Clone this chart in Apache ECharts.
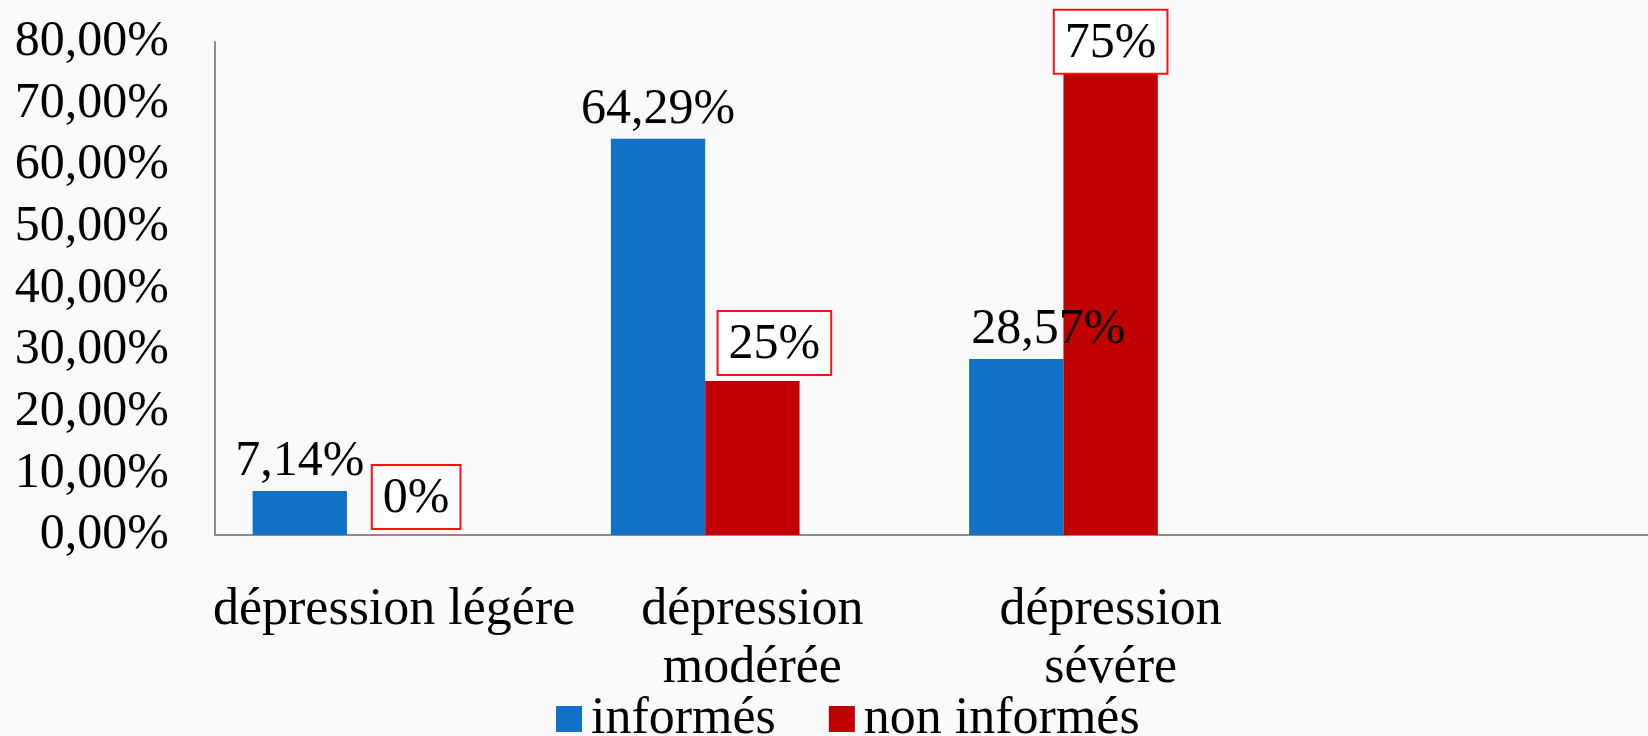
<!DOCTYPE html>
<html>
<head>
<meta charset="utf-8">
<script src="https://cdn.jsdelivr.net/npm/echarts@6/dist/echarts.min.js"></script>
<style>
html,body{margin:0;padding:0;background:#fafafa;}
#chart{width:1648px;height:736px;}
</style>
</head>
<body>
<div id="chart"></div>
<script>
const categories = ['dépression légére', 'dépression\nmodérée', 'dépression\nsévére', ''];
const informes = [7.14, 64.29, 28.57, null];
const nonInformes = [0, 25, 75, null];
const informesLabels = ['7,14%', '64,29%', '28,57%', ''];
const nonInformesLabels = ['0%', '25%', '75%', ''];
const yTicks = ['0,00%', '10,00%', '20,00%', '30,00%', '40,00%', '50,00%', '60,00%', '70,00%', '80,00%'];

const FONT = '"Liberation Serif", "DejaVu Serif", serif';
const chart = echarts.init(document.getElementById('chart'));
chart.setOption({
  backgroundColor: '#fafafa',
  animation: false,
  textStyle: { fontFamily: FONT, color: '#000' },
  grid: { left: 215, right: -11, top: 42, bottom: 201, containLabel: false },
  legend: {
    data: ['informés', 'non informés'],
    left: 551, top: 688,
    icon: 'rect', itemWidth: 26, itemHeight: 26, itemGap: 53,
    textStyle: { fontFamily: FONT, fontSize: 52, color: '#000', padding: [0, 0, 0, 4] }
  },
  xAxis: {
    type: 'category', data: categories,
    axisLine: { lineStyle: { color: '#8c8c8c', width: 2 } },
    axisTick: { show: false },
    axisLabel: { interval: 0, fontFamily: FONT, fontSize: 52, lineHeight: 58, color: '#000', margin: 46 }
  },
  yAxis: {
    type: 'value', min: 0, max: 80, interval: 10,
    splitLine: { show: false },
    axisLine: { show: true, lineStyle: { color: '#8c8c8c', width: 2 } },
    axisTick: { show: false },
    axisLabel: { fontFamily: FONT, fontSize: 50, color: '#000', margin: 46,
      formatter: (v) => yTicks[Math.round(v / 10)] }
  },
  series: [
    {
      name: 'informés', type: 'bar',
      data: informes.map((v, i) => i === 2 ? { value: v, label: { offset: [32, 0] } } : v),
      barCategoryGap: '21%', barGap: '0%',
      itemStyle: { color: '#1170c8' },
      label: { show: true, position: 'top', distance: 4, fontFamily: FONT, fontSize: 50, color: '#000',
        formatter: (p) => informesLabels[p.dataIndex] }
    },
    {
      name: 'non informés', type: 'bar',
      data: nonInformes.map((v, i) => i === 2 ? { value: v, label: { distance: 0 } } : { value: v, label: { offset: [22, 0] } }),
      itemStyle: { color: '#c00000' },
      label: { show: true, position: 'top', distance: 7, fontFamily: FONT, fontSize: 50, color: '#000',
        backgroundColor: '#ffffff', borderColor: '#ff1010', borderWidth: 2, padding: [8, 10, 4, 10],
        formatter: (p) => nonInformesLabels[p.dataIndex] }
    },
    {
      name: 'spacer', type: 'bar', data: [null, null, null, null],
      itemStyle: { color: 'transparent' }, silent: true
    }
  ]
});
</script>
</body>
</html>
